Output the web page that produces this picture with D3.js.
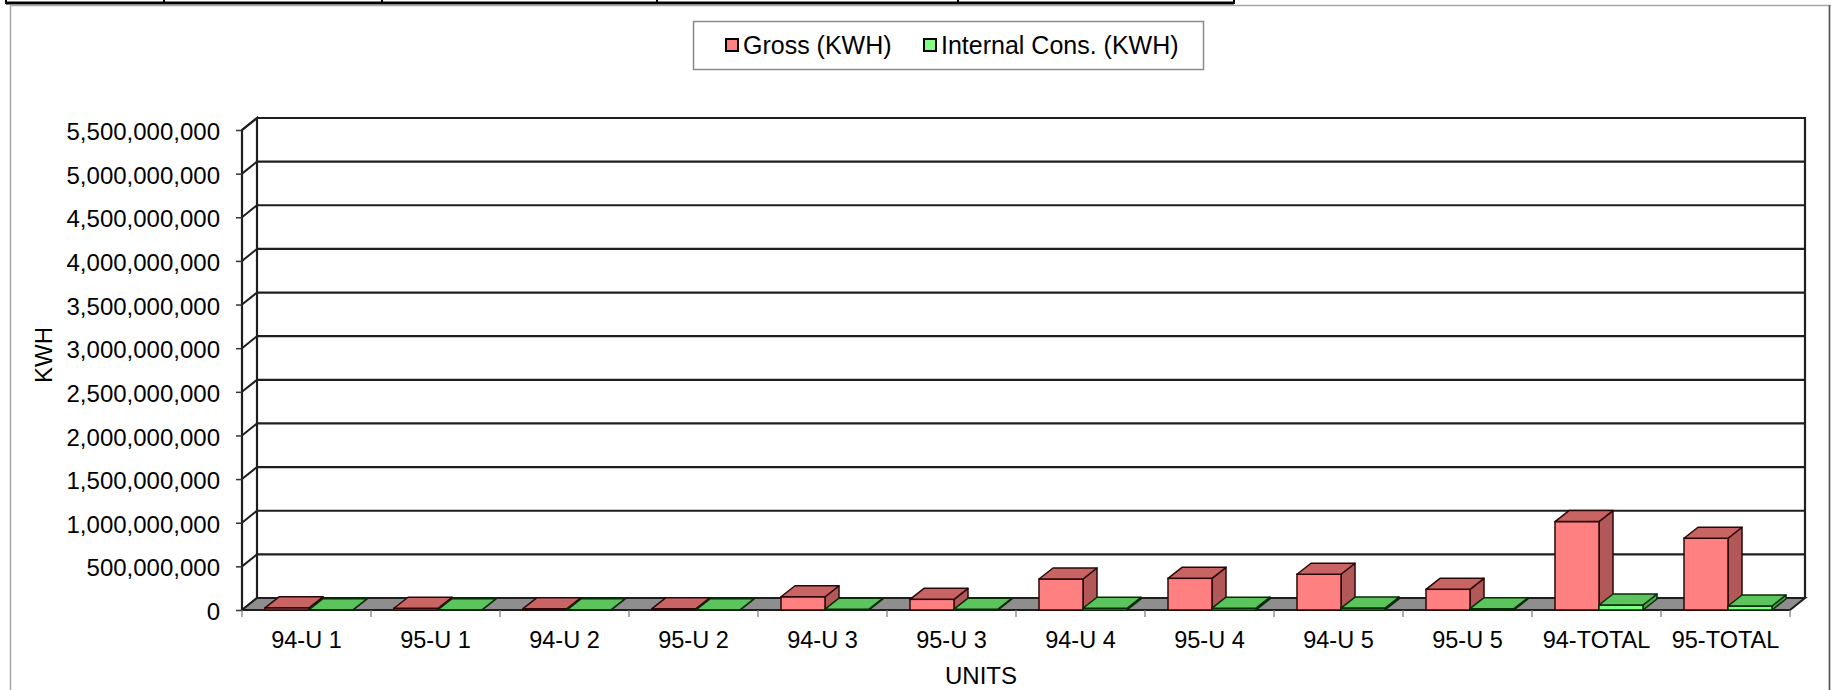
<!DOCTYPE html>
<html>
<head>
<meta charset="utf-8">
<script src="https://cdn.jsdelivr.net/npm/d3@7"></script>
<style>
  body { margin: 0; background: #fff; }
  svg { display: block; font-family: "Liberation Sans", Arial, sans-serif; }
</style>
</head>
<body>
<div id="chart"></div>
<script>
// values (KWH)
const categories = ['94-U 1', '95-U 1', '94-U 2', '95-U 2', '94-U 3', '95-U 3',
                    '94-U 4', '95-U 4', '94-U 5', '95-U 5', '94-TOTAL', '95-TOTAL'];
const grossKwh = [25e6, 20e6, 15e6, 15e6, 152e6, 122e6, 355e6, 363e6, 410e6, 237e6, 1013e6, 822e6];
const internalKwh = [3e6, 3e6, 2e6, 2e6, 10e6, 9e6, 20e6, 21e6, 22e6, 15e6, 57e6, 46e6];
const seriesNames = ['Gross (KWH)', 'Internal Cons. (KWH)'];
const yTickValues = [0, 500e6, 1000e6, 1500e6, 2000e6, 2500e6, 3000e6, 3500e6,
                     4000e6, 4500e6, 5000e6, 5500e6];

const width = 1831, height = 690;
const DX = 15, DY = 12;     // wall / floor depth offset
const BDX = 14, BDY = 11;   // bar depth offset

const colors = {
    gross: { front: '#ff8080', top: '#c86464', side: '#b35858', edge: '#2b0808' },
    internal: { front: '#80ff80', top: '#5cc45c', side: '#4aa64a', edge: '#082b08' }
};

const svg = d3.select('#chart').append('svg')
    .attr('width', width)
    .attr('height', height);

// bits of the table above the chart
const tableXs = [6, 164, 382, 657, 958, 1234];
svg.append('line')
    .attr('x1', 6).attr('x2', 1234).attr('y1', 3).attr('y2', 3)
    .attr('stroke', '#000').attr('stroke-width', 3);
svg.selectAll('.tbl').data(tableXs).enter().append('line')
    .attr('x1', d => d).attr('x2', d => d).attr('y1', 0).attr('y2', 4)
    .attr('stroke', '#000').attr('stroke-width', 2);

// chart frame
svg.append('path')
    .attr('d', 'M10.5,690 L10.5,5.5 L1829.5,5.5 L1829.5,690')
    .attr('fill', 'none').attr('stroke', '#a8a8a8').attr('stroke-width', 1.5);
svg.append('line')
    .attr('x1', 1829.5).attr('x2', 1829.5).attr('y1', 5).attr('y2', 690)
    .attr('stroke', '#555').attr('stroke-width', 1.5);

const x0 = d3.scaleBand().domain(categories).range([242, 1790]);
const bw = x0.bandwidth();
const x1 = d3.scaleBand().domain(['gross', 'internal'])
    .range([bw * 23 / 129, bw * 111 / 129]);
const y = d3.scaleLinear().domain([0, 5500e6]).range([610, 130]);

const y0 = y(0);
const xL = x0.range()[0], xR = x0.range()[1];
const yTop = y(yTickValues[yTickValues.length - 1]);

// back wall
svg.append('rect')
    .attr('x', xL + DX).attr('y', yTop - DY)
    .attr('width', xR - xL).attr('height', y0 - yTop)
    .attr('fill', '#fff');

const grid = svg.append('g').attr('class', 'grid');
grid.selectAll('line.back').data(yTickValues).enter().append('line')
    .attr('class', 'back')
    .attr('x1', xL + DX).attr('x2', xR + DX)
    .attr('y1', d => y(d) - DY).attr('y2', d => y(d) - DY)
    .attr('stroke', '#1e1e1e').attr('stroke-width', 2.2);
grid.selectAll('line.side').data(yTickValues).enter().append('line')
    .attr('class', 'side')
    .attr('x1', xL).attr('x2', xL + DX)
    .attr('y1', d => y(d)).attr('y2', d => y(d) - DY)
    .attr('stroke', '#1e1e1e').attr('stroke-width', 2);

// wall edges
svg.append('path')
    .attr('d', `M${xL},${y0} L${xL},${yTop} L${xL + DX},${yTop - DY} L${xL + DX},${y0 - DY}
                M${xL + DX},${yTop - DY} L${xR + DX},${yTop - DY} L${xR + DX},${y0 - DY}`)
    .attr('fill', 'none').attr('stroke', '#1e1e1e').attr('stroke-width', 2.2);

// floor
svg.append('path')
    .attr('d', `M${xL},${y0} L${xR},${y0} L${xR + DX},${y0 - DY} L${xL + DX},${y0 - DY} Z`)
    .attr('fill', '#8e8e8e').attr('stroke', '#1e1e1e').attr('stroke-width', 2);

// y axis
const yAxis = d3.axisLeft(y)
    .tickValues(yTickValues)
    .tickFormat(d3.format(','))
    .tickSize(6)
    .tickPadding(16);
const yg = svg.append('g').attr('transform', `translate(${xL},0)`).call(yAxis);
yg.select('.domain').remove();
yg.selectAll('.tick line').attr('stroke', '#333').attr('stroke-width', 1.5);
yg.selectAll('.tick text')
    .attr('font-size', 24)
    .attr('font-family', '"Liberation Sans", Arial, sans-serif')
    .attr('fill', '#000')
    .attr('dy', '0.4em');

// x axis
const xAxis = d3.axisBottom(x0).tickSize(0).tickPadding(21);
const xg = svg.append('g').attr('transform', `translate(0,${y0})`).call(xAxis);
xg.select('.domain').remove();
xg.selectAll('.tick text')
    .attr('font-size', 23.5)
    .attr('font-family', '"Liberation Sans", Arial, sans-serif')
    .attr('fill', '#000');

const boundaries = categories.map(c => x0(c)).concat([xR]);
svg.selectAll('.xtick').data(boundaries).enter().append('line')
    .attr('class', 'xtick')
    .attr('x1', d => d).attr('x2', d => d)
    .attr('y1', y0).attr('y2', y0 + 7)
    .attr('stroke', '#777').attr('stroke-width', 1.2);

// 3D bars
function drawBox(g, x, w, yt, c) {
    g.append('polygon')
        .attr('points', [[x + w, yt], [x + w + BDX, yt - BDY], [x + w + BDX, y0 - BDY], [x + w, y0]].join(' '))
        .attr('fill', c.side).attr('stroke', c.edge).attr('stroke-width', 1.5)
        .attr('stroke-linejoin', 'round');
    g.append('rect')
        .attr('x', x).attr('y', yt)
        .attr('width', w).attr('height', Math.max(0, y0 - yt))
        .attr('fill', c.front).attr('stroke', c.edge).attr('stroke-width', 1.5);
    g.append('polygon')
        .attr('points', [[x, yt], [x + w, yt], [x + w + BDX, yt - BDY], [x + BDX, yt - BDY]].join(' '))
        .attr('fill', c.top).attr('stroke', c.edge).attr('stroke-width', 1.5)
        .attr('stroke-linejoin', 'round');
}

const barsG = svg.append('g').attr('class', 'bars');
categories.forEach((cat, i) => {
    const g = barsG.append('g');
    drawBox(g, x0(cat) + x1('gross'), x1.bandwidth(), y(grossKwh[i]), colors.gross);
    drawBox(g, x0(cat) + x1('internal'), x1.bandwidth(), y(internalKwh[i]), colors.internal);
});

// axis titles
svg.append('text')
    .attr('transform', 'translate(52,355) rotate(-90)')
    .attr('text-anchor', 'middle')
    .attr('font-size', 24)
    .text('KWH');
svg.append('text')
    .attr('x', 981).attr('y', 684)
    .attr('text-anchor', 'middle')
    .attr('font-size', 24)
    .text('UNITS');

// legend
const legend = svg.append('g').attr('transform', 'translate(693,21)');
legend.append('rect')
    .attr('x', 0.5).attr('y', 0.5).attr('width', 510).attr('height', 48)
    .attr('fill', '#fff').attr('stroke', '#8a8a8a').attr('stroke-width', 1.5);
const legendItems = [
    { name: seriesNames[0], fill: colors.gross.front, x: 33 },
    { name: seriesNames[1], fill: colors.internal.front, x: 231 }
];
const li = legend.selectAll('.item').data(legendItems).enter().append('g')
    .attr('transform', d => `translate(${d.x},0)`);
li.append('rect')
    .attr('x', 0).attr('y', 18).attr('width', 12).attr('height', 12)
    .attr('fill', d => d.fill).attr('stroke', '#000').attr('stroke-width', 2);
li.append('text')
    .attr('x', 17).attr('y', 33)
    .attr('font-size', 25)
    .text(d => d.name);
</script>
</body>
</html>
